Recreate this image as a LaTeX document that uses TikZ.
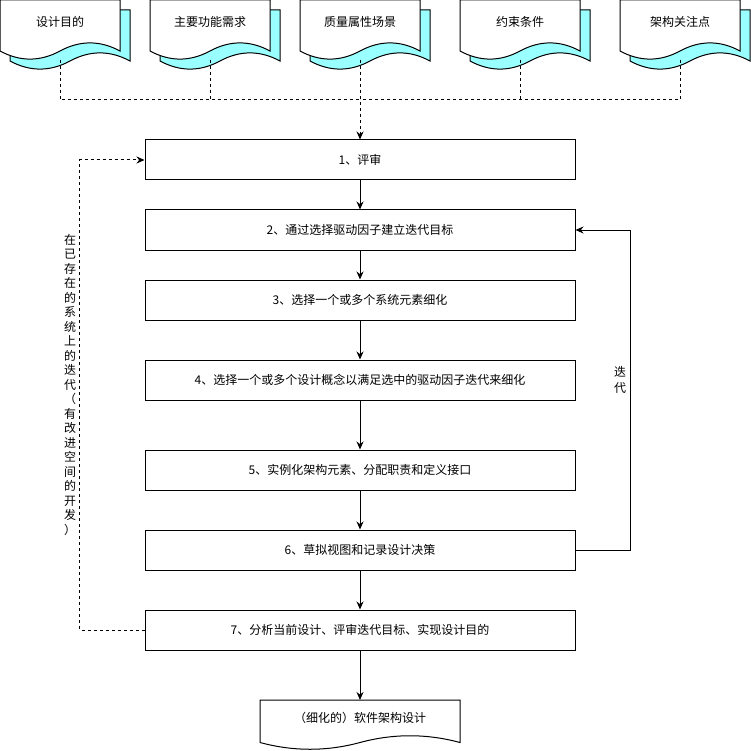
\documentclass[tikz,border=0pt]{standalone}
\usepackage{fontspec}
\setmainfont{Noto Sans CJK SC}
\usetikzlibrary{arrows.meta}
\definecolor{cyanfill}{RGB}{153,255,255}
\tikzset{
  docshape/.pic={\path[pic actions] (0,0) -- (1,0) -- (1,0.85)
     .. controls (0.8333,0.67) and (0.6667,0.67) .. (0.5,0.85)
     .. controls (0.3333,1.03) and (0.1667,1.03) .. (0,0.85) -- cycle;},
  stepbox/.style={draw=black, line width=1pt, minimum width=430pt, minimum height=40pt, inner sep=0pt, font=\fontsize{12}{14}\selectfont},
  flow/.style={draw=black, line width=1pt, -{Stealth[length=8pt,width=7pt]}},
  dflow/.style={flow, dash pattern=on 3pt off 3pt},
  dline/.style={draw=black, line width=1pt, dash pattern=on 3pt off 3pt},
  lbl/.style={font=\fontsize{12}{14}\selectfont, inner sep=0pt, align=center}
}
\begin{document}
\begin{tikzpicture}[x=1pt,y=-1pt]
\useasboundingbox (0,0) rectangle (751,751);
% top documents
\foreach \xx/\nm/\tx in {0/d1/设计目的, 150/d2/主要功能需求, 300/d3/质量属性场景, 460/d4/约束条件, 620/d5/架构关注点}{
  \pic[draw=black, fill=cyanfill, line width=1pt, xscale=120, yscale=60] at (\xx+10,10) {docshape};
  \pic[draw=black, fill=white, line width=1pt, xscale=120, yscale=60] at (\xx,0) {docshape};
  \node[lbl] (\nm) at (\xx+60,22) {\tx};
  \coordinate (\nm b) at (\xx+60,60);
}
% steps
\node[stepbox] (s1) at (360,160) {1、评审};
\node[stepbox] (s2) at (360,230) {2、通过选择驱动因子建立迭代目标};
\node[stepbox] (s3) at (360,300) {3、选择一个或多个系统元素细化};
\node[stepbox] (s4) at (360,380) {4、选择一个或多个设计概念以满足选中的驱动因子迭代来细化};
\node[stepbox] (s5) at (360,470) {5、实例化架构元素、分配职责和定义接口};
\node[stepbox] (s6) at (360,550) {6、草拟视图和记录设计决策};
\node[stepbox] (s7) at (360,630) {7、分析当前设计、评审迭代目标、实现设计目的};
% output document
\pic[draw=black, fill=white, line width=1pt, xscale=200, yscale=50] at (260,700) {docshape};
\node[lbl] (out) at (360,718) {（细化的）软件架构设计};
\coordinate (outt) at (360,700);
% inputs to review
\coordinate (jn) at (360,100);
\draw[dflow] (d1b) |- (jn) -- (s1.north);
\draw[dline] (d2b) -- (d2b |- jn);
\draw[dline] (d3b) -- (jn);
\draw[dline] (d4b) -- (d4b |- jn);
\draw[dline] (d5b) |- (jn);
% main flow
\draw[flow] (s1) -- (s2);
\draw[flow] (s2) -- (s3);
\draw[flow] (s3) -- (s4);
\draw[flow] (s4) -- (s5);
\draw[flow] (s5) -- (s6);
\draw[flow] (s6) -- (s7);
\draw[flow] (s7) -- (outt);
% iteration loop
\draw[flow] (s6.east) -- ++(55,0) |- (s2.east);
\node[lbl, font=\fontsize{12}{16}\selectfont] (it) at (620,380) {迭\\代};
% outer loop
\draw[dflow] (s7.west) -- ++(-65,0) |- (s1.west);
\node[lbl, font=\fontsize{12}{14.5}\selectfont] (ex) at (70,385) {在\\已\\存\\在\\的\\系\\统\\上\\的\\迭\\代\\（\\有\\改\\进\\空\\间\\的\\开\\发\\）};
\end{tikzpicture}
\end{document}
